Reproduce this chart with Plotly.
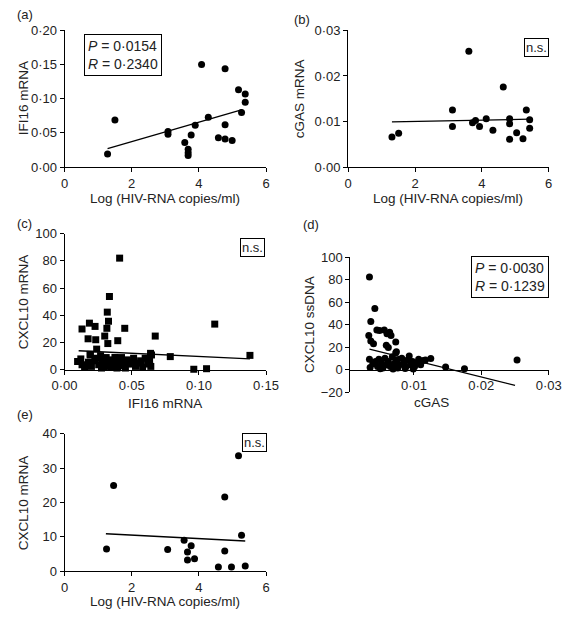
import plotly.graph_objects as go

# ---------------- data ----------------
# (a) IFI16 mRNA vs log HIV-RNA
a_x = [1.28, 1.50, 3.08, 3.08, 3.58, 3.68, 3.68, 3.68, 3.77, 3.89, 4.08, 4.28, 4.58, 4.78, 4.78, 4.78, 4.99, 5.18, 5.27, 5.38, 5.38]
a_y = [0.019, 0.069, 0.052, 0.048, 0.036, 0.026, 0.021, 0.017, 0.047, 0.061, 0.150, 0.073, 0.043, 0.144, 0.062, 0.041, 0.039, 0.113, 0.080, 0.107, 0.095]
a_fit_x = [1.28, 5.29]
a_fit_y = [0.027, 0.084]

# (b) cGAS mRNA vs log HIV-RNA
b_x = [1.31, 1.51, 3.12, 3.12, 3.61, 3.72, 3.81, 3.93, 4.13, 4.33, 4.64, 4.83, 4.83, 4.83, 5.04, 5.23, 5.33, 5.43, 5.43]
b_y = [0.0066, 0.0074, 0.0125, 0.0089, 0.0254, 0.0097, 0.0102, 0.0089, 0.0106, 0.0081, 0.0176, 0.0106, 0.0095, 0.0061, 0.0075, 0.0062, 0.0125, 0.0104, 0.0085]
b_fit_x = [1.31, 5.45]
b_fit_y = [0.0099, 0.0105]

# (c) CXCL10 mRNA vs IFI16 mRNA
c_x = [0.0410, 0.0334, 0.0318, 0.0327, 0.0130, 0.0185, 0.0227, 0.0315, 0.0448, 0.0175, 0.0232, 0.0299, 0.0322, 0.0396,
       0.0675, 0.1118, 0.0239, 0.0190, 0.0640, 0.0787, 0.1380, 0.0962, 0.1057,
       0.0097, 0.0121, 0.0130, 0.0149, 0.0178, 0.0192, 0.0200, 0.0225, 0.0239, 0.0254, 0.0268, 0.0275, 0.0282, 0.0296,
       0.0310, 0.0318, 0.0325, 0.0339, 0.0345, 0.0353, 0.0367, 0.0375, 0.0382, 0.0390, 0.0396, 0.0410, 0.0424, 0.0430,
       0.0438, 0.0453, 0.0467, 0.0481, 0.0500, 0.0514, 0.0528, 0.0547, 0.0566, 0.0581, 0.0600, 0.0618, 0.0633, 0.0642, 0.0647]
c_y = [82.0, 53.8, 42.3, 35.6, 29.9, 34.2, 31.8, 30.4, 30.4, 22.7, 22.0, 24.7, 19.2, 21.3,
       24.7, 33.5, 15.1, 11.3, 12.0, 9.6, 10.5, 0.3, 0.7,
       6.0, 7.9, 3.6, 1.7, 5.5, 10.8, 2.4, 6.5, 8.4, 3.6, 10.3, 1.2, 6.0, 1.7,
       8.9, 4.8, 2.8, 7.2, 2.2, 3.2, 6.0, 9.0, 8.4, 1.2, 2.2, 5.5, 8.9, 3.0,
       4.1, 1.2, 7.2, 4.1, 5.5, 8.4, 2.4, 4.8, 6.5, 1.7, 8.4, 4.1, 6.0, 2.4, 10.8]
c_fit_x = [0.0105, 0.138]
c_fit_y = [13.9, 7.9]

# (d) CXCL10 ssDNA vs cGAS
d_x = [0.0034, 0.0042, 0.0036, 0.0033, 0.0036, 0.0040, 0.0045, 0.0049, 0.0056, 0.0060, 0.0064, 0.0066, 0.0059, 0.0062,
       0.0073, 0.0074, 0.0034, 0.0125, 0.0147, 0.0175, 0.0253, 0.0114,
       0.0035, 0.0039, 0.0043, 0.0046, 0.0048, 0.0052, 0.0054, 0.0057, 0.0060, 0.0062, 0.0065, 0.0068, 0.0071, 0.0073,
       0.0075, 0.0076, 0.0079, 0.0082, 0.0085, 0.0088, 0.0091, 0.0093, 0.0095, 0.0098, 0.0101, 0.0104, 0.0107, 0.0110,
       0.0117, 0.0050, 0.0069, 0.0087, 0.0099]
d_y = [82.6, 54.5, 42.9, 30.4, 25.5, 23.2, 35.4, 34.8, 35.4, 31.9, 33.3, 30.4, 21.7, 19.7,
       24.6, 15.9, 9.3, 9.9, 2.3, 0.9, 8.7, 8.1,
       2.0, 5.2, 7.2, 2.9, 9.3, 5.8, 1.5, 10.2, 4.4, 7.2, 2.9, 11.6, 5.8, 15.1,
       8.7, 1.5, 4.4, 10.2, 5.8, 2.9, 8.7, 12.2, 4.4, 7.2, 2.9, 5.8, 9.3, 4.4,
       8.7, 0.8, 0.5, 1.0, 0.6]
d_fit_x = [0.0034, 0.0250]
d_fit_y = [18.3, -14.0]

# (e) CXCL10 mRNA vs log HIV-RNA
e_x = [1.25, 1.46, 3.07, 3.56, 3.66, 3.66, 3.77, 3.87, 4.58, 4.77, 4.77, 4.97, 5.18, 5.27, 5.38]
e_y = [6.5, 24.9, 6.3, 9.0, 5.6, 3.3, 7.4, 3.6, 1.2, 21.6, 5.9, 1.2, 33.6, 10.5, 1.5]
e_fit_x = [1.23, 5.38]
e_fit_y = [10.9, 8.8]

# tick labels
hiv_ticks = [0, 2, 4, 6]
hiv_text = ["0", "2", "4", "6"]
a_yticks = [0, 0.05, 0.10, 0.15, 0.20]
a_ytext = ["0·00", "0·05", "0·10", "0·15", "0·20"]
b_yticks = [0, 0.01, 0.02, 0.03]
b_ytext = ["0·00", "0·01", "0·02", "0·03"]
c_xticks = [0, 0.05, 0.10, 0.15]
c_xtext = ["0·00", "0·05", "0·10", "0·15"]
c_yticks = [0, 20, 40, 60, 80, 100]
c_ytext = ["0", "20", "40", "60", "80", "100"]
d_xticks = [0.01, 0.02, 0.03]
d_xtext = ["0·01", "0·02", "0·03"]
d_yticks = [-20, 0, 20, 40, 60, 80, 100]
d_ytext = ["−20", "0", "20", "40", "60", "80", "100"]
e_yticks = [0, 10, 20, 30, 40]
e_ytext = ["0", "10", "20", "30", "40"]

# ---------------- layout helpers ----------------
W, H = 577, 617
FONT = "Liberation Sans, Arial, sans-serif"


def px(x):
    return x / W


def py(y):
    return 1 - y / H


fig = go.Figure()


def add_panel(idx, xs, ys, fx, fy, symbol):
    xa = "x" if idx == 1 else f"x{idx}"
    ya = "y" if idx == 1 else f"y{idx}"
    fig.add_trace(go.Scatter(x=xs, y=ys, mode="markers", xaxis=xa, yaxis=ya,
                             marker=dict(symbol=symbol, size=7, color="black"),
                             cliponaxis=False, showlegend=False, hoverinfo="x+y"))
    fig.add_trace(go.Scatter(x=fx, y=fy, mode="lines", xaxis=xa, yaxis=ya,
                             line=dict(color="black", width=1.3),
                             cliponaxis=False, showlegend=False, hoverinfo="skip"))


add_panel(1, a_x, a_y, a_fit_x, a_fit_y, "circle")
add_panel(2, b_x, b_y, b_fit_x, b_fit_y, "circle")
add_panel(3, c_x, c_y, c_fit_x, c_fit_y, "square")
add_panel(4, d_x, d_y, d_fit_x, d_fit_y, "circle")
add_panel(5, e_x, e_y, e_fit_x, e_fit_y, "circle")

axis_common = dict(showline=True, linecolor="black", linewidth=1, ticks="outside",
                   ticklen=4, tickcolor="black", tickwidth=1, showgrid=False,
                   zeroline=False, tickfont=dict(family=FONT, size=13, color="#222"),
                   tickmode="array", fixedrange=True)

# pixel boxes: (left, right, top, bottom)
boxes = {
    1: (54, 265, 24, 164),
    2: (351, 561, 24, 164),
    3: (54, 265, 232.3, 371.7),
    4: (353.3, 561, 256.7, 394.7),
    5: (54, 265, 437.3, 578.3),
}

xcfg = {
    1: dict(range=[0, 6], tickvals=hiv_ticks, ticktext=hiv_text),
    2: dict(range=[0, 6], tickvals=hiv_ticks, ticktext=hiv_text),
    3: dict(range=[0, 0.15], tickvals=c_xticks, ticktext=c_xtext),
    4: dict(range=[0.00057, 0.03], tickvals=d_xticks, ticktext=d_xtext),
    5: dict(range=[0, 6], tickvals=hiv_ticks, ticktext=hiv_text),
}
ycfg = {
    1: dict(range=[0, 0.20], tickvals=a_yticks, ticktext=a_ytext),
    2: dict(range=[0, 0.03], tickvals=b_yticks, ticktext=b_ytext),
    3: dict(range=[0, 100], tickvals=c_yticks, ticktext=c_ytext),
    4: dict(range=[-20, 100], tickvals=d_yticks, ticktext=d_ytext),
    5: dict(range=[0, 40], tickvals=e_yticks, ticktext=e_ytext),
}

layout_axes = {}
for i in range(1, 6):
    l, r, t, b = boxes[i]
    xname = "xaxis" if i == 1 else f"xaxis{i}"
    yname = "yaxis" if i == 1 else f"yaxis{i}"
    xref = "y" if i == 1 else f"y{i}"
    yref = "x" if i == 1 else f"x{i}"
    xd = dict(axis_common, domain=[px(l), px(r)], anchor=xref, **xcfg[i])
    if i == 4:
        # x-axis of panel (d) sits on the y = 0 line
        xd.update(anchor="free", position=py(371.7))
    layout_axes[xname] = xd
    layout_axes[yname] = dict(axis_common, domain=[py(b), py(t)], anchor=yref, **ycfg[i])

fig.update_layout(**layout_axes)

ann = []
tfont = dict(family=FONT, size=13, color="#222")

# panel labels
for lab, x, y in [("(a)", 2, 8), ("(b)", 292, 13), ("(c)", 2, 222), ("(d)", 302, 223), ("(e)", 2, 418)]:
    ann.append(dict(text=lab, x=px(x), y=py(y), xref="paper", yref="paper",
                    xanchor="left", yanchor="middle", showarrow=False, font=tfont))

# x-axis titles
for t, x, y in [("Log (HIV-RNA copies/ml)", 159.5, 196), ("Log (HIV-RNA copies/ml)", 456, 196),
                ("IFI16 mRNA", 159.5, 406), ("cGAS", 438, 405), ("Log (HIV-RNA copies/ml)", 159.5, 609)]:
    ann.append(dict(text=t, x=px(x), y=py(y), xref="paper", yref="paper",
                    xanchor="center", yanchor="middle", showarrow=False,
                    font=dict(family=FONT, size=13.5, color="#222")))

# y-axis titles
for t, x, y in [("IFI16 mRNA", 11, 94), ("cGAS mRNA", 300, 94), ("CXCL10 mRNA", 11, 302),
                ("CXCL10 ssDNA", 310, 326), ("CXCL10 mRNA", 11, 508)]:
    ann.append(dict(text=t, x=px(x), y=py(y), xref="paper", yref="paper", textangle=-90,
                    xanchor="center", yanchor="middle", showarrow=False,
                    font=dict(family=FONT, size=13.5, color="#222")))

# statistics boxes
box_font = dict(family=FONT, size=14, color="#222")
ann.append(dict(text="<i>P</i> = 0·0154<br><i>R</i> = 0·2340", x=px(74), y=py(28),
                xref="paper", yref="paper", xanchor="left", yanchor="top", align="left",
                showarrow=False, font=box_font, bordercolor="black", borderwidth=1,
                borderpad=3, bgcolor="white"))
ann.append(dict(text="<i>P</i> = 0·0030<br><i>R</i> = 0·1239", x=px(561), y=py(255),
                xref="paper", yref="paper", xanchor="right", yanchor="top", align="left",
                showarrow=False, font=box_font, bordercolor="black", borderwidth=1,
                borderpad=3, bgcolor="white"))
for x, y in [(561.5, 32), (264, 237), (266, 437)]:
    ann.append(dict(text="n.s.", x=px(x), y=py(y), xref="paper", yref="paper",
                    xanchor="right", yanchor="top", showarrow=False,
                    font=dict(family=FONT, size=13, color="#222"),
                    bordercolor="black", borderwidth=1, borderpad=1, bgcolor="white"))

fig.update_layout(annotations=ann, width=W, height=H,
                  margin=dict(l=0, r=0, t=0, b=0),
                  paper_bgcolor="white", plot_bgcolor="white",
                  font=dict(family=FONT, color="#222"))

fig.write_html("out.html", config={"displayModeBar": False},
               post_script="document.body.style.margin='0px';document.body.style.overflow='hidden';")
